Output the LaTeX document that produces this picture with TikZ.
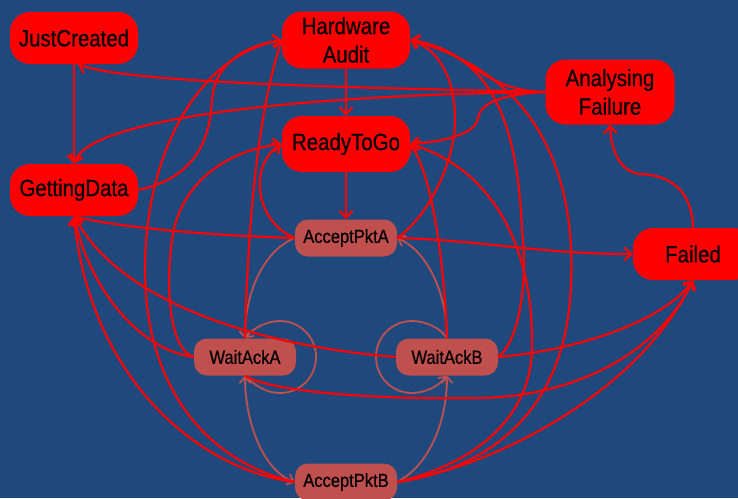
\documentclass[tikz,border=0pt]{standalone}
\usepackage{fontspec}
\setmainfont[FakeStretch=0.87,FakeBold=0.5]{Liberation Sans}
\usetikzlibrary{arrows.meta}
\definecolor{bgblue}{HTML}{1F497D}
\definecolor{statered}{HTML}{FF0000}
\definecolor{substate}{HTML}{C0504D}

\begin{document}
\begin{tikzpicture}[x=1pt,y=-1pt,
  bigstate/.style={fill=statered, rounded corners=20pt, minimum width=128pt,
    minimum height=52pt, inner sep=0pt, align=center,
    font=\fontsize{23.5}{28.5}\selectfont},
  smallstate/.style={fill=substate, rounded corners=13pt, minimum width=102pt,
    minimum height=37pt, inner sep=0pt, font=\fontsize{19}{22}\selectfont},
  trans/.style={draw=statered, line width=2.2pt,
    -{Straight Barb[length=7pt,width=13pt]}},
  subtrans/.style={draw=substate, line width=1.8pt,
    -{Straight Barb[length=6pt,width=11pt]}},
  bisubtrans/.style={draw=substate, line width=1.8pt,
    {Straight Barb[length=6pt,width=11pt]}-{Straight Barb[length=6pt,width=11pt]}},
]
\useasboundingbox (0,0) rectangle (738,498);
\fill[bgblue] (0,0) rectangle (738,498);

% states
\node[bigstate] (jc) at (74,38) {JustCreated};
\node[bigstate, minimum height=57pt] (ha) at (346,40) {Hardware\\Audit};
\node[bigstate, minimum width=129pt, minimum height=65pt] (af) at (610,92) {Analysing\\Failure};
\node[bigstate, minimum height=56pt] (rg) at (346,144) {ReadyToGo};
\node[bigstate] (gd) at (74,190) {GettingData};
\node[bigstate, minimum width=120pt] (fl) at (693,254) {Failed};
\node[smallstate] (apa) at (346,238) {AcceptPktA};
\node[smallstate] (wa) at (245,357) {WaitAckA};
\node[smallstate] (wb) at (447,357) {WaitAckB};
\node[smallstate] (apb) at (346,482) {AcceptPktB};

% transfer cycle
\draw[subtrans] (wa.south) .. controls (256,387) and (268,393) .. (280,393)
  .. controls (300,393) and (316,377) .. (316,357)
  .. controls (316,337) and (300,321) .. (280,321)
  .. controls (268,321) and (254,327) .. (wa.north);
\draw[subtrans] (wb.north) .. controls (440,327) and (424,321) .. (412,321)
  .. controls (392,321) and (376,337) .. (376,357)
  .. controls (376,377) and (392,393) .. (412,393)
  .. controls (424,393) and (438,387) .. (wb.south);
\draw[subtrans] (apa.west) .. controls (265,250) and (245,290) .. (wa.north);
\draw[subtrans] (wb.north) .. controls (447,290) and (425,250) .. (apa.east);
\draw[bisubtrans] (wa.south) .. controls (245,420) and (262,470) .. (apb.west);
\draw[subtrans] (apb.east) .. controls (430,465) and (447,420) .. (wb.south);

% main transitions
\draw[trans] (jc.south) -- (gd.north);
\draw[trans] (ha.south) -- (rg.north);
\draw[trans] (rg.south) -- (apa.north);
\draw[trans] (af.west) .. controls (380,88) and (130,84) .. ([xshift=4pt]jc.south);
\draw[trans] (af.west) .. controls (300,95) and (90,118) .. (gd.north);
\draw[trans] (af.west) .. controls (480,91) and (470,50) .. (ha.east);
\draw[trans] (af.west) .. controls (500,94) and (480,104) .. (478,118)
  .. controls (476,135) and (440,142) .. (rg.east);
\draw[trans] (gd.east) .. controls (195,178) and (210,140) .. (212,100)
  .. controls (215,60) and (250,45) .. (ha.west);
\draw[trans] (fl.north) .. controls (692,190) and (670,175) .. (640,174)
  .. controls (620,172) and (611,150) .. (af.south);

\draw[trans] (apa.west) .. controls (220,236) and (120,228) .. (gd.south);
\draw[trans] (apa.west) .. controls (255,222) and (248,165) .. (rg.west);
\draw[trans] (apa.east) .. controls (480,240) and (540,254) .. (fl.west);
\draw[trans] (apa.east) .. controls (430,215) and (455,160) .. (455,120)
  .. controls (455,80) and (440,50) .. (ha.east);

\draw[trans] (wa.north) .. controls (247,250) and (255,120) .. (ha.west);
\draw[trans] (wa.west) .. controls (170,350) and (165,290) .. (172,240)
  .. controls (180,180) and (230,150) .. (rg.west);
\draw[trans] (wa.west) .. controls (140,350) and (90,290) .. (gd.south);
\draw[trans] (wa.south) .. controls (270,392) and (380,400) .. (480,398)
  .. controls (580,396) and (660,350) .. (fl.south);

\draw[trans] (wb.west) .. controls (250,345) and (120,300) .. (gd.south);
\draw[trans] (wb.east) .. controls (580,350) and (665,320) .. (fl.south);
\draw[trans] (wb.east) .. controls (520,340) and (528,280) .. (522,230)
  .. controls (518,140) and (500,55) .. (ha.east);
\draw[trans] (wb.north) .. controls (445,280) and (435,180) .. (rg.east);

\draw[trans] (apb.east) .. controls (500,465) and (640,390) .. (fl.south);
\draw[trans] (apb.west) .. controls (200,470) and (90,380) .. (gd.south);
\draw[trans] (apb.west) .. controls (200,460) and (145,380) .. (145,270)
  .. controls (145,150) and (200,55) .. (ha.west);
\draw[trans] (apb.east) .. controls (480,470) and (560,420) .. (570,300)
  .. controls (580,180) and (540,75) .. (ha.east);
\draw[trans] (apb.east) .. controls (470,465) and (535,420) .. (532,340)
  .. controls (532,250) and (495,170) .. (rg.east);
\end{tikzpicture}
\end{document}
